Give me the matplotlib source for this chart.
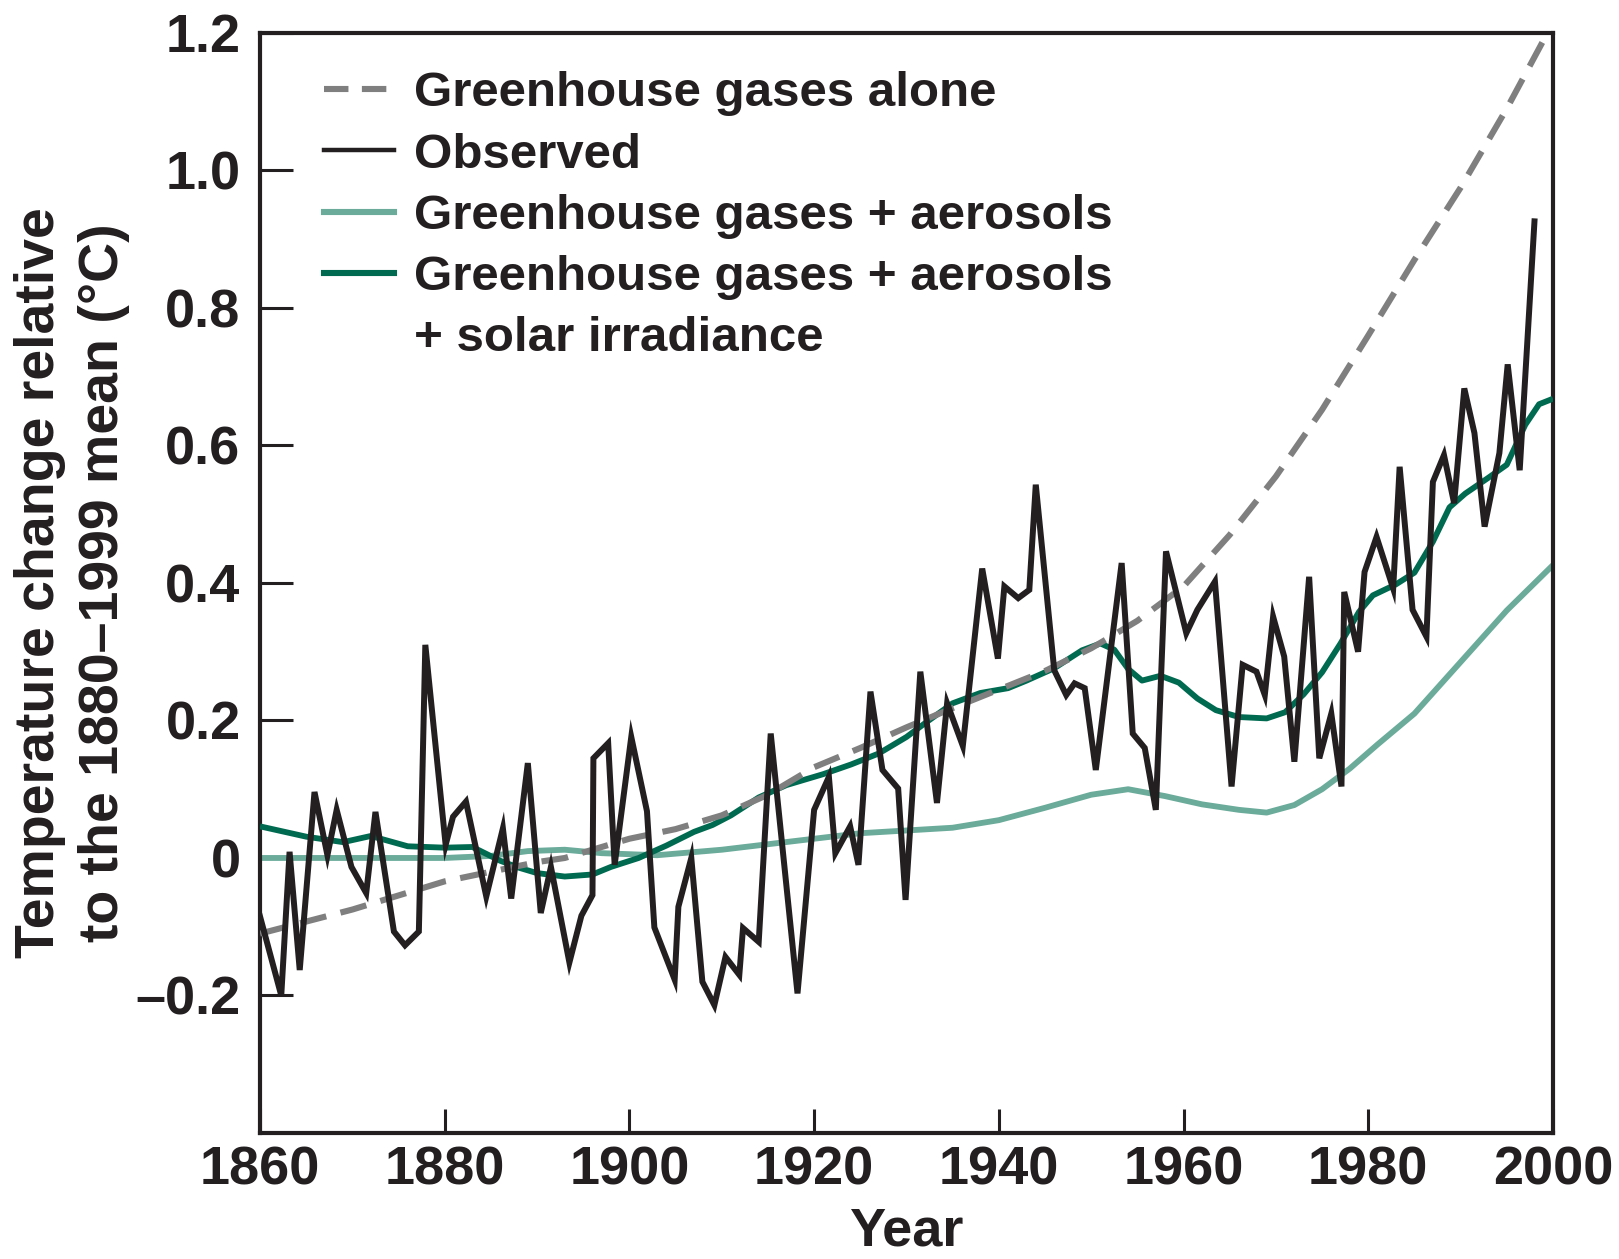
import numpy as np
import matplotlib
matplotlib.use('Agg')
import matplotlib.pyplot as plt
from matplotlib.lines import Line2D

plt.rcParams['font.family'] = ['Liberation Sans', 'DejaVu Sans']
plt.rcParams['font.weight'] = 'bold'

# observed record (vertices)
obs_year = [1860.0, 1862.3, 1863.2, 1864.3, 1865.9, 1867.3, 1868.3, 1869.9, 1871.5, 1872.5,
            1874.5, 1875.7, 1877.2, 1877.9, 1880.1, 1880.9, 1882.3, 1884.5, 1886.3, 1887.2,
            1889.0, 1890.4, 1891.5, 1893.5, 1894.8, 1896.0, 1896.1, 1897.7, 1898.4, 1900.2,
            1901.9, 1902.7, 1904.9, 1905.3, 1906.7, 1907.9, 1909.2, 1910.4, 1911.9, 1912.3,
            1914.0, 1915.3, 1918.2, 1920.0, 1921.6, 1922.3, 1923.9, 1924.8, 1926.1, 1927.4,
            1929.1, 1929.9, 1931.5, 1933.3, 1934.4, 1936.1, 1938.2, 1939.9, 1940.6, 1942.1,
            1943.3, 1944.0, 1946.0, 1947.3, 1948.2, 1949.3, 1950.5, 1953.3, 1954.5, 1955.8,
            1957.0, 1958.1, 1960.3, 1961.5, 1963.4, 1965.2, 1966.4, 1967.9, 1968.8, 1969.7,
            1970.9, 1972.0, 1973.6, 1974.7, 1976.0, 1977.1, 1977.4, 1978.9, 1979.6, 1980.9,
            1982.7, 1983.4, 1984.8, 1986.3, 1987.0, 1988.2, 1989.3, 1990.4, 1991.5, 1992.6,
            1994.2, 1995.1, 1996.4, 1998.0]
obs_temp = [-0.085, -0.200, 0.009, -0.163, 0.096, 0.004, 0.070, -0.013, -0.051, 0.067,
            -0.107, -0.127, -0.107, 0.310, 0.019, 0.060, 0.082, -0.056, 0.043, -0.059,
            0.138, -0.080, -0.013, -0.152, -0.084, -0.054, 0.145, 0.167, -0.010, 0.176,
            0.068, -0.101, -0.177, -0.071, 0.000, -0.180, -0.214, -0.144, -0.170, -0.102,
            -0.122, 0.181, -0.197, 0.070, 0.118, 0.007, 0.046, -0.010, 0.242, 0.128,
            0.101, -0.061, 0.271, 0.080, 0.225, 0.163, 0.421, 0.290, 0.395, 0.378,
            0.390, 0.543, 0.273, 0.237, 0.254, 0.247, 0.128, 0.429, 0.181, 0.160,
            0.070, 0.446, 0.327, 0.361, 0.402, 0.104, 0.281, 0.271, 0.237, 0.351,
            0.293, 0.140, 0.409, 0.145, 0.210, 0.104, 0.387, 0.300, 0.416, 0.467,
            0.392, 0.569, 0.361, 0.322, 0.547, 0.586, 0.516, 0.683, 0.618, 0.482,
            0.589, 0.718, 0.564, 0.926]

# greenhouse gases alone
ghg_year = [1860, 1870, 1880, 1890, 1893, 1900, 1905, 1910, 1915, 1920, 1925, 1930, 1935,
            1940, 1945, 1950, 1955, 1960, 1965, 1970, 1975, 1980, 1985, 1990, 1995, 2000]
ghg_temp = [-0.110, -0.075, -0.034, -0.006, 0.000, 0.028, 0.042, 0.062, 0.092, 0.132, 0.160,
            0.190, 0.218, 0.245, 0.272, 0.305, 0.345, 0.395, 0.470, 0.555, 0.652, 0.760,
            0.870, 0.975, 1.090, 1.215]

# greenhouse gases + aerosols
aer_year = [1860, 1870, 1880, 1885, 1889, 1893, 1897, 1903, 1910, 1915, 1920, 1925, 1930,
            1935, 1940, 1945, 1950, 1954, 1958, 1962, 1966, 1969, 1972, 1975, 1978, 1981,
            1985, 1990, 1995, 2000]
aer_temp = [0.000, 0.000, 0.000, 0.003, 0.010, 0.012, 0.007, 0.004, 0.012, 0.020, 0.028,
            0.036, 0.040, 0.044, 0.055, 0.073, 0.092, 0.100, 0.090, 0.078, 0.070, 0.066,
            0.077, 0.100, 0.130, 0.165, 0.210, 0.285, 0.360, 0.426]

# greenhouse gases + aerosols + solar irradiance
sol_year = [1860, 1865, 1869, 1872, 1876, 1880, 1883, 1886, 1888, 1890, 1893, 1896, 1898,
            1901, 1904, 1907, 1909, 1911, 1914, 1917, 1921, 1924, 1927, 1930, 1932, 1935,
            1938, 1941, 1943, 1946, 1949, 1951, 1952.5, 1954, 1955.5, 1957.5, 1959.5,
            1961.5, 1963.5, 1966, 1969, 1971, 1973, 1975, 1977, 1979, 1980.5, 1983, 1985,
            1987, 1988.8, 1990.5, 1993, 1995, 1997, 1998.5, 2000]
sol_temp = [0.046, 0.031, 0.023, 0.032, 0.017, 0.015, 0.016, -0.004, -0.014, -0.022, -0.027,
            -0.024, -0.013, 0.000, 0.018, 0.038, 0.048, 0.062, 0.088, 0.106, 0.122, 0.136,
            0.152, 0.176, 0.196, 0.225, 0.240, 0.247, 0.258, 0.276, 0.302, 0.312, 0.303,
            0.275, 0.258, 0.265, 0.255, 0.232, 0.215, 0.205, 0.203, 0.212, 0.238, 0.270,
            0.312, 0.358, 0.382, 0.398, 0.415, 0.460, 0.510, 0.530, 0.553, 0.572, 0.630,
            0.660, 0.668]

xticks = [1860, 1880, 1900, 1920, 1940, 1960, 1980, 2000]
yticks = [-0.2, 0.0, 0.2, 0.4, 0.6, 0.8, 1.0, 1.2]
ytick_labels = ['\u20130.2', '0', '0.2', '0.4', '0.6', '0.8', '1.0', '1.2']

c_black = '#231f20'
c_gray = '#7f7f7f'
c_light = '#6aab9a'
c_dark = '#006a50'

fig = plt.figure(figsize=(16.19, 12.59), dpi=100)
ax = fig.add_axes([0.1606, 0.1001, 0.7986, 0.8737])

ax.plot(aer_year, aer_temp, c=c_light, lw=4.2, solid_capstyle='butt', zorder=2)
ax.plot(sol_year, sol_temp, c=c_dark, lw=4.2, solid_capstyle='butt', zorder=3)
ax.plot(ghg_year, ghg_temp, c=c_gray, lw=4.4, dashes=(4.4, 2.4), zorder=4)
ax.plot(obs_year, obs_temp, c=c_black, lw=4.3, solid_joinstyle='miter', zorder=5)

ax.set_xlim(1860, 2000)
ax.set_ylim(-0.4, 1.2)
ax.set_xticks(xticks)
ax.set_xticklabels([str(x) for x in xticks])
ax.set_yticks(yticks)
ax.set_yticklabels(ytick_labels)
ax.tick_params(axis='x', direction='in', length=17, width=2.2, pad=9, labelsize=39,
               color=c_black, labelcolor=c_black)
ax.tick_params(axis='y', direction='in', length=24, width=2.2, pad=14, labelsize=39,
               color=c_black, labelcolor=c_black)
for sp in ax.spines.values():
    sp.set_linewidth(3)
    sp.set_color(c_black)

ax.set_xlabel('Year', fontsize=39, fontweight='bold', color=c_black, labelpad=8)
ax.set_ylabel('Temperature change relative\nto the 1880\u20131999 mean (\u00b0C)',
              fontsize=40, fontweight='bold', color=c_black, labelpad=4, linespacing=1.3)

# legend (last entry wraps onto a second row with no handle)
handles = [Line2D([], [], c=c_gray, lw=4.4, dashes=(4.0, 2.2)),
           Line2D([], [], c=c_black, lw=3.2),
           Line2D([], [], c=c_light, lw=4.4),
           Line2D([], [], c=c_dark, lw=4.4),
           Line2D([], [], lw=0)]
labels = ['Greenhouse gases alone', 'Observed', 'Greenhouse gases + aerosols',
          'Greenhouse gases + aerosols', '+ solar irradiance']
leg = ax.legend(handles, labels, loc='upper left', bbox_to_anchor=(0.034, 0.983),
                frameon=False, fontsize=35.5, handlelength=1.42, handletextpad=0.42,
                labelspacing=0.33, borderaxespad=0)
for t in leg.get_texts():
    t.set_color(c_black)
    t.set_fontweight('bold')

fig.savefig('out.png', dpi=100)
